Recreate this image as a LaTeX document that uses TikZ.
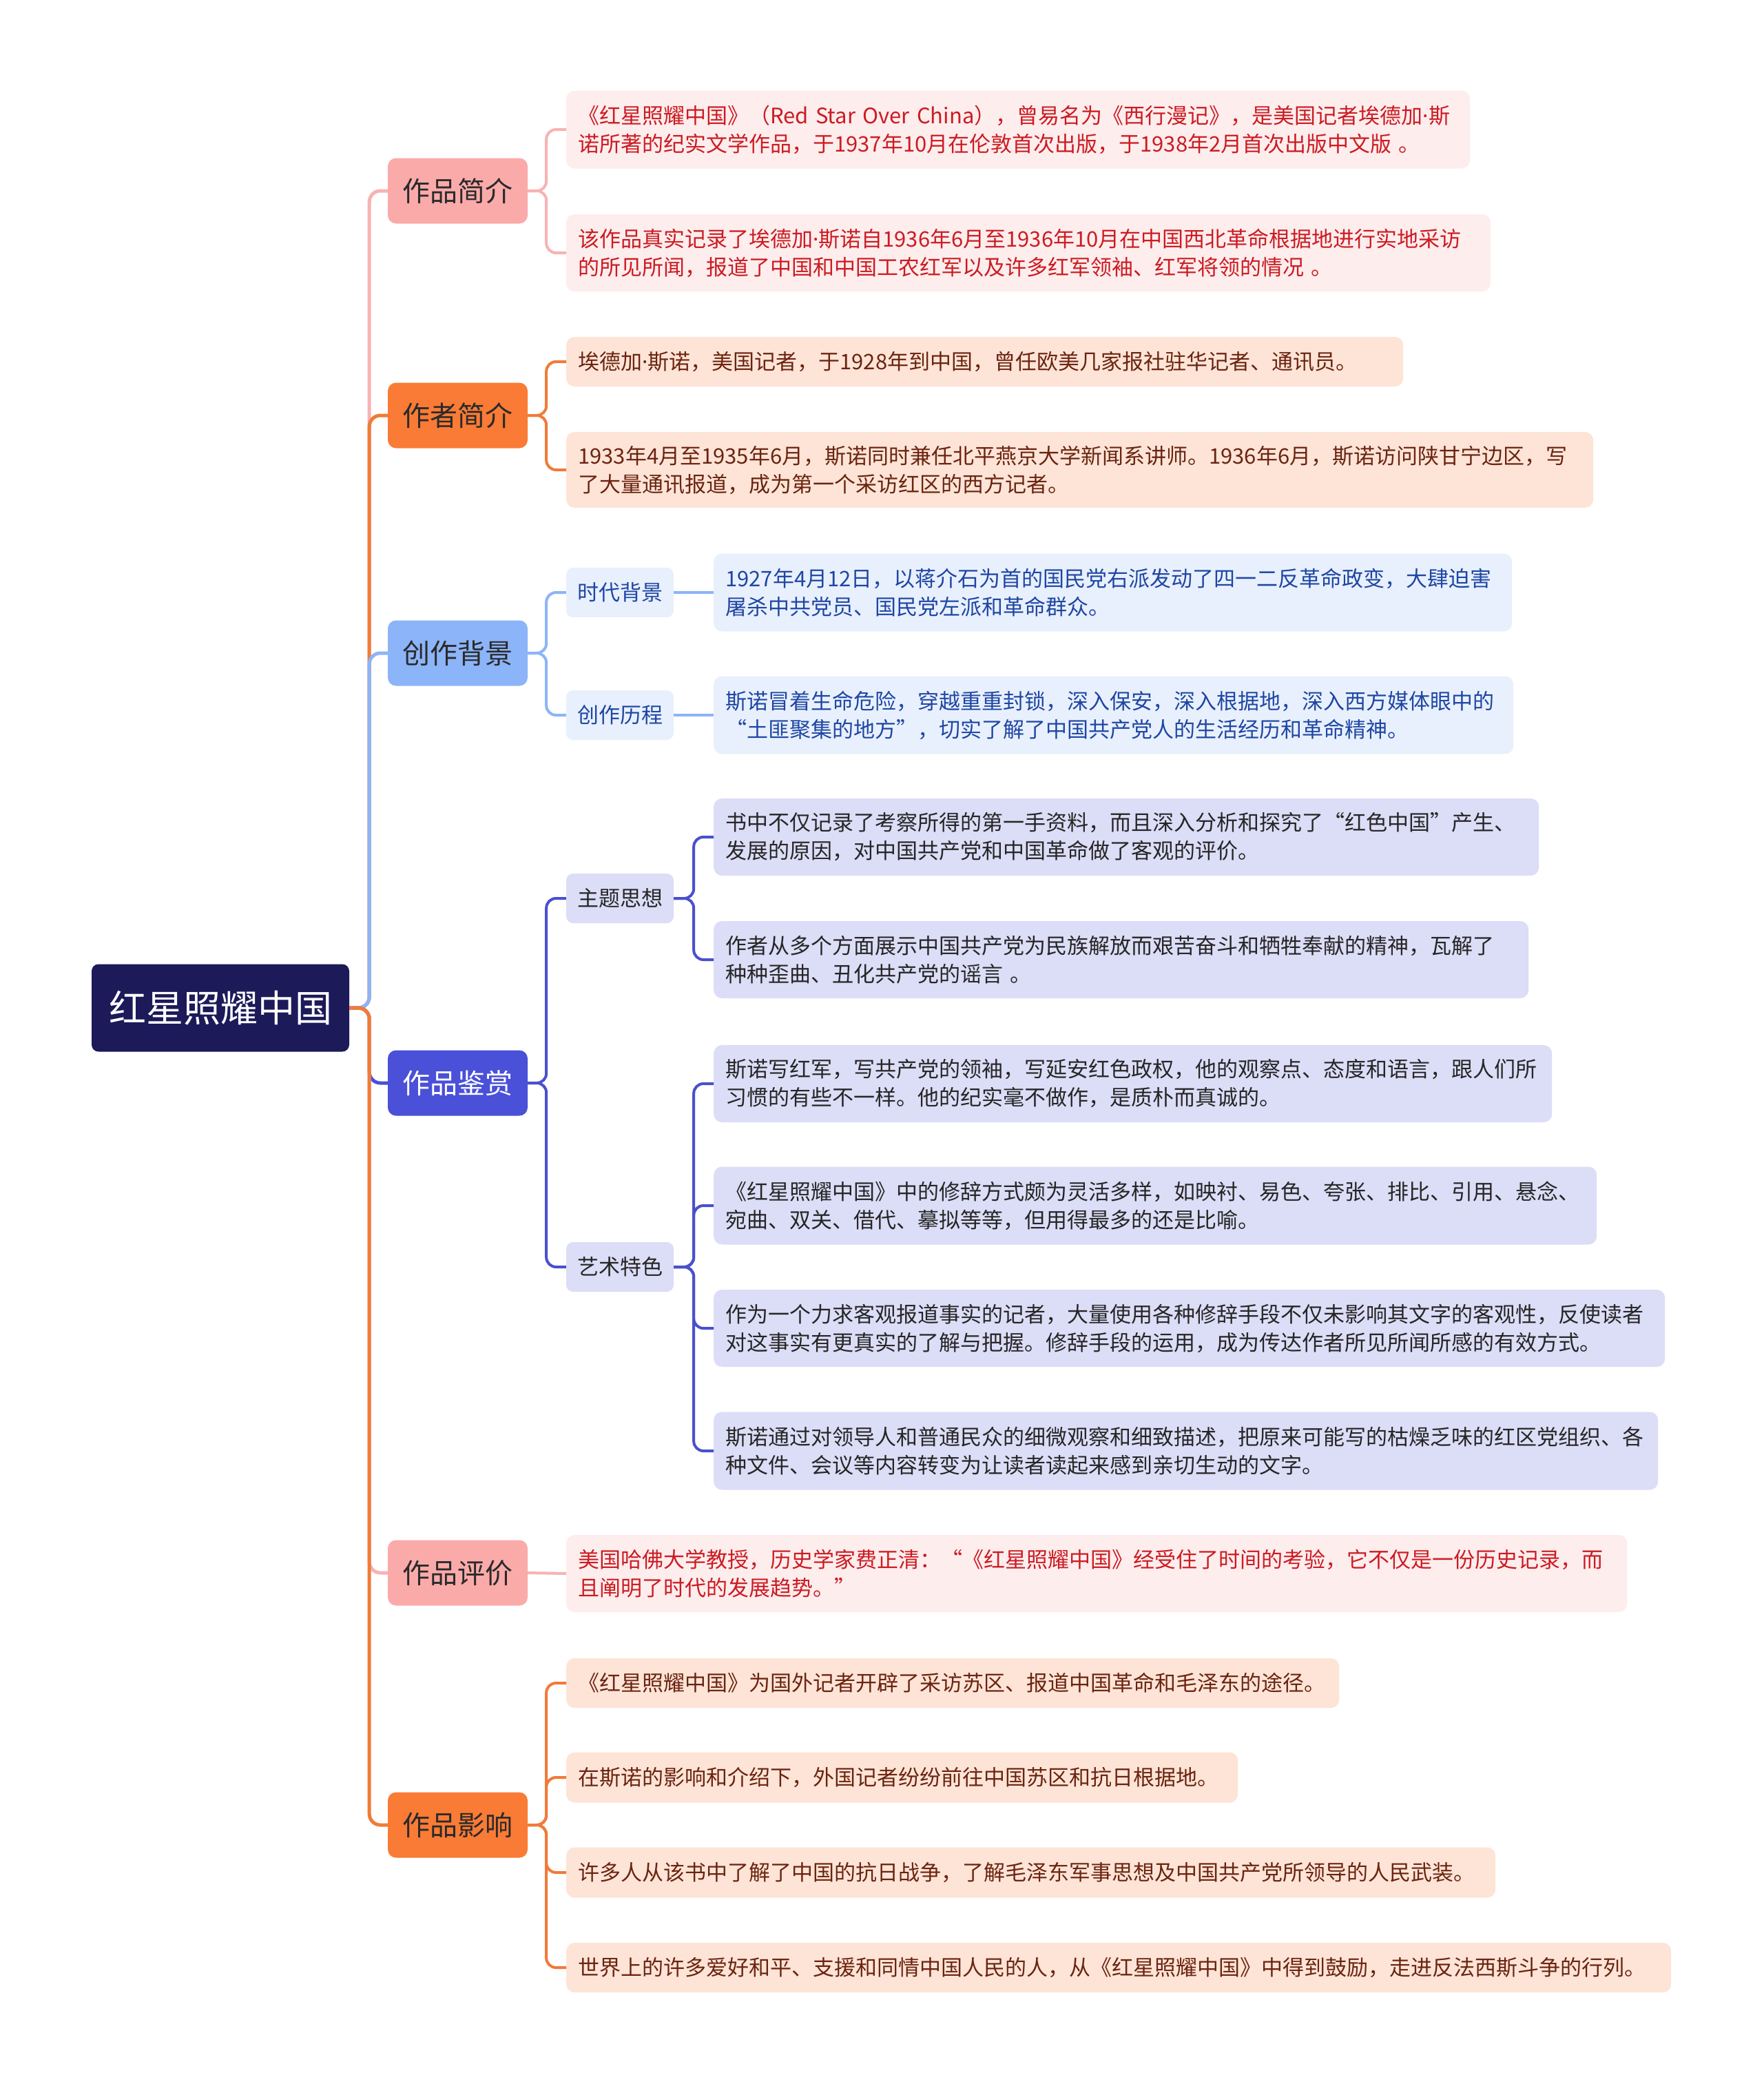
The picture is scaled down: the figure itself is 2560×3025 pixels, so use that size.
\documentclass[tikz,border=0pt]{standalone}
\usepackage{fontspec}
\setmainfont{Noto Sans CJK SC}
\newfontfamily\latinf{Noto Sans}
\newcommand{\mdot}{{\latinf ·}}
\definecolor{rootc}{HTML}{1C1A59}
\definecolor{pinkn}{HTML}{FBAAAA}
\definecolor{pinkl}{HTML}{F8B2B2}
\definecolor{pinkb}{HTML}{FDEDED}
\definecolor{pinkt}{HTML}{CC1B22}
\definecolor{orn}{HTML}{F97B35}
\definecolor{orl}{HTML}{F07B38}
\definecolor{orb}{HTML}{FDE4D7}
\definecolor{ort}{HTML}{6B2410}
\definecolor{bln}{HTML}{8CB4F8}
\definecolor{blb}{HTML}{E8F0FD}
\definecolor{blt}{HTML}{1F46A3}
\definecolor{inn}{HTML}{4A50D8}
\definecolor{inl}{HTML}{4A50CC}
\definecolor{inb}{HTML}{DCDDF7}
\definecolor{intx}{HTML}{262626}
\definecolor{darktx}{HTML}{2A2A2A}
\begin{document}
\begin{tikzpicture}[x=1pt,y=-1pt,
  rootn/.style={rectangle, rounded corners=10pt, fill=rootc, text=white,
    font=\fontsize{54}{60}\selectfont, minimum width=374pt, minimum height=127pt, inner sep=0pt},
  lvone/.style={rectangle, rounded corners=12pt, minimum width=203pt, minimum height=95pt,
    font=\fontsize{40}{46}\selectfont, text=darktx, inner sep=0pt},
  lvtwo/.style={rectangle, rounded corners=10pt, minimum width=156pt, minimum height=72pt,
    font=\fontsize{31}{38}\selectfont, inner sep=0pt},
  tbox/.style={rectangle, rounded corners=12pt, anchor=west, align=left,
    inner xsep=17pt, inner ysep=0pt, font=\fontsize{31}{41}\selectfont},
  conn/.style={line width=5pt, rounded corners=16pt},
  sub/.style={line width=4pt, rounded corners=14pt}]
\fill[white] (0,0) rectangle (2560,3025);
\useasboundingbox (0,0) rectangle (2560,3025);

% root and level one
\node[rootn] (root) at (320,1463) {红星照耀中国};
\node[lvone, fill=pinkn] (a) at (664.5,277) {作品简介};
\node[lvone, fill=orn] (b) at (664.5,603) {作者简介};
\node[lvone, fill=bln] (c) at (664.5,948) {创作背景};
\node[lvone, fill=inn, text=white] (d) at (664.5,1572) {作品鉴赏};
\node[lvone, fill=pinkn] (e) at (664.5,2283) {作品评价};
\node[lvone, fill=orn] (f) at (664.5,2649) {作品影响};

% level two small nodes
\node[lvtwo, fill=blb, text=blt] (c1) at (900,860) {时代背景};
\node[lvtwo, fill=blb, text=blt] (c2) at (900,1038) {创作历程};
\node[lvtwo, fill=inb, text=intx] (d1) at (900,1304) {主题思想};
\node[lvtwo, fill=inb, text=intx] (d2) at (900,1839) {艺术特色};

% text boxes
\node[tbox, fill=pinkb, text=pinkt, minimum width=1312pt, text width=1278pt, minimum height=113pt] (a1) at (822,188)
  {《红星照耀中国》（Red~Star~Over~China），曾易名为《西行漫记》，是美国记者埃德加\mdot 斯\\诺所著的纪实文学作品，于1937年10月在伦敦首次出版，于1938年2月首次出版中文版 。};
\node[tbox, fill=pinkb, text=pinkt, minimum width=1342pt, text width=1308pt, minimum height=112pt] (a2) at (822,367)
  {该作品真实记录了埃德加\mdot 斯诺自1936年6月至1936年10月在中国西北革命根据地进行实地采访\\的所见所闻，报道了中国和中国工农红军以及许多红军领袖、红军将领的情况 。};
\node[tbox, fill=orb, text=ort, minimum width=1215pt, text width=1181pt, minimum height=72pt] (b1) at (822,525)
  {埃德加\mdot 斯诺，美国记者，于1928年到中国，曾任欧美几家报社驻华记者、通讯员。};
\node[tbox, fill=orb, text=ort, minimum width=1491pt, text width=1457pt, minimum height=110pt] (b2) at (822,682)
  {1933年4月至1935年6月，斯诺同时兼任北平燕京大学新闻系讲师。1936年6月，斯诺访问陕甘宁边区，写\\了大量通讯报道，成为第一个采访红区的西方记者。};
\node[tbox, fill=blb, text=blt, minimum width=1159pt, text width=1125pt, minimum height=113pt] (c1a) at (1036,860)
  {1927年4月12日，以蒋介石为首的国民党右派发动了四一二反革命政变，大肆迫害\\屠杀中共党员、国民党左派和革命群众。};
\node[tbox, fill=blb, text=blt, minimum width=1161pt, text width=1127pt, minimum height=113pt] (c2a) at (1036,1038)
  {斯诺冒着生命危险，穿越重重封锁，深入保安，深入根据地，深入西方媒体眼中的\\“土匪聚集的地方”，切实了解了中国共产党人的生活经历和革命精神。};
\node[tbox, fill=inb, text=intx, minimum width=1198pt, text width=1164pt, minimum height=112pt] (d1a) at (1036,1215)
  {书中不仅记录了考察所得的第一手资料，而且深入分析和探究了“红色中国”产生、\\发展的原因，对中国共产党和中国革命做了客观的评价。};
\node[tbox, fill=inb, text=intx, minimum width=1183pt, text width=1149pt, minimum height=112pt] (d1b) at (1036,1393)
  {作者从多个方面展示中国共产党为民族解放而艰苦奋斗和牺牲奉献的精神，瓦解了\\种种歪曲、丑化共产党的谣言 。};
\node[tbox, fill=inb, text=intx, minimum width=1217pt, text width=1183pt, minimum height=112pt] (d2a) at (1036,1573)
  {斯诺写红军，写共产党的领袖，写延安红色政权，他的观察点、态度和语言，跟人们所\\习惯的有些不一样。他的纪实毫不做作，是质朴而真诚的。};
\node[tbox, fill=inb, text=intx, minimum width=1282pt, text width=1248pt, minimum height=113pt] (d2b) at (1036,1750)
  {《红星照耀中国》中的修辞方式颇为灵活多样，如映衬、易色、夸张、排比、引用、悬念、\\宛曲、双关、借代、摹拟等等，但用得最多的还是比喻。};
\node[tbox, fill=inb, text=intx, minimum width=1381pt, text width=1347pt, minimum height=112pt] (d2c) at (1036,1928)
  {作为一个力求客观报道事实的记者，大量使用各种修辞手段不仅未影响其文字的客观性，反使读者\\对这事实有更真实的了解与把握。修辞手段的运用，成为传达作者所见所闻所感的有效方式。};
\node[tbox, fill=inb, text=intx, minimum width=1371pt, text width=1337pt, minimum height=113pt] (d2d) at (1036,2106)
  {斯诺通过对领导人和普通民众的细微观察和细致描述，把原来可能写的枯燥乏味的红区党组织、各\\种文件、会议等内容转变为让读者读起来感到亲切生动的文字。};
\node[tbox, fill=pinkb, text=pinkt, minimum width=1540pt, text width=1506pt, minimum height=112pt] (e1) at (822,2284)
  {美国哈佛大学教授，历史学家费正清：“《红星照耀中国》经受住了时间的考验，它不仅是一份历史记录，而\\且阐明了时代的发展趋势。”};
\node[tbox, fill=orb, text=ort, minimum width=1122pt, text width=1088pt, minimum height=72pt] (f1) at (822,2443)
  {《红星照耀中国》为国外记者开辟了采访苏区、报道中国革命和毛泽东的途径。};
\node[tbox, fill=orb, text=ort, minimum width=975pt, text width=941pt, minimum height=73pt] (f2) at (822,2580)
  {在斯诺的影响和介绍下，外国记者纷纷前往中国苏区和抗日根据地。};
\node[tbox, fill=orb, text=ort, minimum width=1349pt, text width=1315pt, minimum height=73pt] (f3) at (822,2718)
  {许多人从该书中了解了中国的抗日战争，了解毛泽东军事思想及中国共产党所领导的人民武装。};
\node[tbox, fill=orb, text=ort, minimum width=1604pt, text width=1570pt, minimum height=72pt] (f4) at (822,2856)
  {世界上的许多爱好和平、支援和同情中国人民的人，从《红星照耀中国》中得到鼓励，走进反法西斯斗争的行列。};

% main connectors (order matters for overlapping trunk colours)
\draw[conn, pinkl] (root.east) -- ++(29,0) |- (a.west);
\draw[conn, orl] (root.east) -- ++(29,0) |- (b.west);
\draw[conn, bln] (root.east) -- ++(29,0) |- (c.west);
\draw[conn, inn] (root.east) -- ++(29,0) |- (d.west);
\draw[conn, pinkl] (root.east) -- ++(29,0) |- (e.west);
\draw[conn, orl] (root.east) -- ++(29,0) |- (f.west);

% second level connectors
\draw[sub, pinkl] (a.east) -- ++(27,0) |- (a1.west);
\draw[sub, pinkl] (a.east) -- ++(27,0) |- (a2.west);
\draw[sub, orl] (b.east) -- ++(27,0) |- (b1.west);
\draw[sub, orl] (b.east) -- ++(27,0) |- (b2.west);
\draw[sub, bln] (c.east) -- ++(27,0) |- (c1.west);
\draw[sub, bln] (c.east) -- ++(27,0) |- (c2.west);
\draw[sub, inl] (d.east) -- ++(27,0) |- (d1.west);
\draw[sub, inl] (d.east) -- ++(27,0) |- (d2.west);
\draw[sub, pinkl] (e.east) -- (e1.west);
\draw[sub, orl] (f.east) -- ++(27,0) |- (f1.west);
\draw[sub, orl] (f.east) -- ++(27,0) |- (f2.west);
\draw[sub, orl] (f.east) -- ++(27,0) |- (f3.west);
\draw[sub, orl] (f.east) -- ++(27,0) |- (f4.west);

% third level connectors
\draw[sub, bln] (c1.east) -- (c1a.west);
\draw[sub, bln] (c2.east) -- (c2a.west);
\draw[sub, inl] (d1.east) -- ++(29,0) |- (d1a.west);
\draw[sub, inl] (d1.east) -- ++(29,0) |- (d1b.west);
\draw[sub, inl] (d2.east) -- ++(29,0) |- (d2a.west);
\draw[sub, inl] (d2.east) -- ++(29,0) |- (d2b.west);
\draw[sub, inl] (d2.east) -- ++(29,0) |- (d2c.west);
\draw[sub, inl] (d2.east) -- ++(29,0) |- (d2d.west);
\end{tikzpicture}
\end{document}
